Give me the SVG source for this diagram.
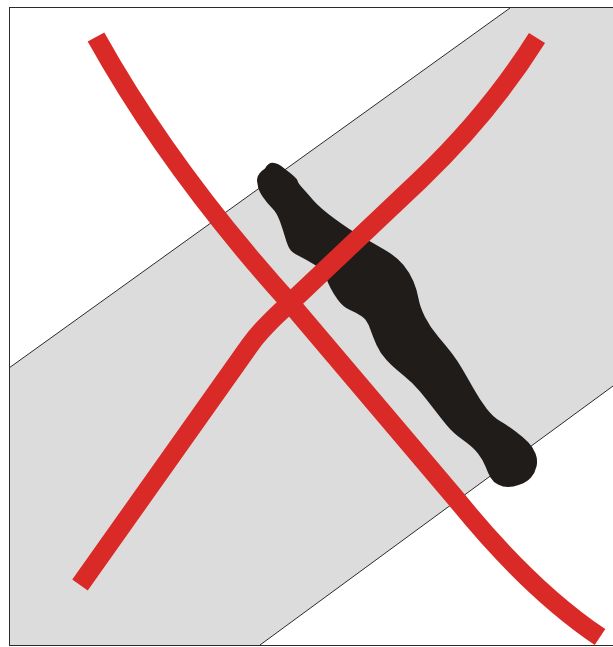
<svg xmlns="http://www.w3.org/2000/svg" width="613" height="647" viewBox="0 0 613 647">
  <style>
    .edge { fill: none; stroke: #2b2b2b; stroke-width: 1; }
    .red { fill: none; stroke: #d92a27; stroke-width: 19; stroke-linecap: butt; stroke-linejoin: round; }
  </style>
  <rect x="0" y="0" width="613" height="647" fill="#ffffff"/>
  <g id="band">
    <polygon points="9,368 510,8 613,8 613,386 260,645 9,645" fill="#dcdcdc"/>
    <line class="edge" x1="9" y1="368" x2="510" y2="8"/>
    <line class="edge" x1="613" y1="386" x2="260" y2="645"/>
  </g>
  <g id="frame">
    <rect class="edge" x="9.5" y="7.5" width="610" height="638"/>
  </g>
  <g id="blob">
    <path fill="#201c1a" d="M265,168.5 Q271,157 285,169 Q297,178 297.5,180.5 Q298,183 302.5,188 Q307,193 313.5,200.5 Q320,208 335,219 Q350,230 361.5,236.5 Q373,243 385,250 Q397,257 403.5,265 Q410,273 413.5,281.5 Q417,290 418.5,298.5 Q420,307 425,317 Q430,327 438.5,337 Q447,347 452,353.5 Q457,360 462,368.5 Q467,377 473.5,388.5 Q480,400 486.5,408.5 Q493,417 500,421 Q507,425 515,431 Q523,437 528,442 Q533,447 535.5,453.5 Q538,460 536.5,466.5 Q535,473 531,477.5 Q527,482 520,484.5 Q513,487 508,487 Q503,487 498,484.5 Q493,482 490.5,477.5 Q488,473 485.5,466.5 Q483,460 478,453.5 Q473,447 463,440 Q453,433 446.5,425 Q440,417 433.5,408.5 Q427,400 420,391.5 Q413,383 403,375 Q393,367 386.5,360 Q380,353 376.5,345 Q373,337 370,328.5 Q367,320 362,316.5 Q357,313 350,310 Q343,307 338,300 Q333,293 330.5,288 Q328,283 325.5,276.5 Q323,270 315,265 Q307,260 300,256.5 Q293,253 290.5,250 Q288,247 285.5,238.5 Q283,230 280,221.5 Q277,213 272,208 Q267,203 262.5,196.5 Q258,190 257.5,183.5 Q255,175 265,168.5 Z"/>
  </g>
  <g id="cross">
    <path class="red" d="M96,37 Q170,170 290,303 L457,500 Q530,590 600,637"/>
    <path class="red" d="M80,585 L250,345 Q262,328 290,303 L420,180 Q490,113 537,38"/>
  </g>
</svg>
